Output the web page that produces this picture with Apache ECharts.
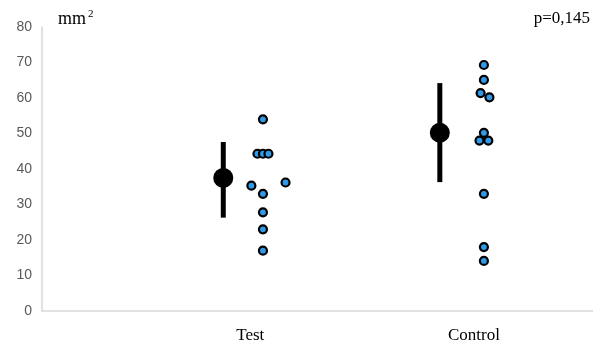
<!DOCTYPE html>
<html><head><meta charset="utf-8">
<script src="https://cdn.jsdelivr.net/npm/echarts@6/dist/echarts.min.js"></script>
<style>html,body{margin:0;padding:0;background:#fff}#c{width:593px;height:344px}</style>
</head><body><div id="c"></div>
<script>
// Categories and their label positions on the x scale (0..10)
var categories = ['Test', 'Control'];
var labelPos = [3.78, 7.84];
var meanPos = [3.29, 7.22];
var pointPos = [4.01, 8.02];
// Individual values (with horizontal jitter offsets)
var testValues  = [54, 44.3, 44.3, 44.3, 36.2, 35.3, 33, 27.8, 23, 17];
var testJitter  = [0, -0.1, 0, 0.1, 0.41, -0.21, 0, 0, 0, 0];
var controlValues = [69.3, 65.1, 61.4, 60.2, 50.2, 48, 48, 33, 18, 14.1];
var controlJitter = [0, 0, -0.06, 0.1, 0, -0.08, 0.08, 0, 0, 0];
// Means and error bars
var means = [37.5, 50.2];
var lows  = [26.3, 36.3];
var highs = [47.6, 64.2];

var pts = [];
testValues.forEach(function(v, i){ pts.push([pointPos[0] + testJitter[i], v]); });
controlValues.forEach(function(v, i){ pts.push([pointPos[1] + controlJitter[i], v]); });
var meanData = means.map(function(m, i){ return [meanPos[i], m]; });
var errData = means.map(function(m, i){ return [meanPos[i], lows[i], highs[i]]; });

var chart = echarts.init(document.getElementById('c'));
chart.setOption({
  animation: false,
  grid: {left: 42, right: 0, top: 27, bottom: 32, containLabel: false},
  xAxis: {
    type: 'value', min: 0, max: 10,
    axisLine: {show: true, onZero: false, lineStyle: {color: '#d9d9d9', width: 1.5}},
    axisTick: {show: false},
    splitLine: {show: false},
    axisLabel: {
      customValues: labelPos,
      margin: 16,
      fontFamily: 'Liberation Serif', fontSize: 17, color: '#000',
      formatter: function(v){
        for (var i = 0; i < labelPos.length; i++) if (Math.abs(v - labelPos[i]) < 1e-6) return categories[i];
        return '';
      }
    }
  },
  yAxis: {
    type: 'value', min: 0, max: 80, interval: 10,
    axisLine: {show: true, lineStyle: {color: '#d9d9d9', width: 1.5}},
    axisTick: {show: false},
    splitLine: {show: false},
    axisLabel: {margin: 10, fontFamily: 'Liberation Sans', fontSize: 14, color: '#595959'}
  },
  graphic: [
    {type: 'text', left: 58, top: 10, style: {text: 'mm', font: '18px "Liberation Serif"', fill: '#000'}},
    {type: 'text', left: 88, top: 9, style: {text: '2', font: '11px "Liberation Serif"', fill: '#000'}},
    {type: 'text', right: 3, top: 10, style: {text: 'p=0,145', font: '17px "Liberation Serif"', fill: '#000'}}
  ],
  series: [
    {
      type: 'custom',
      data: errData,
      renderItem: function(params, api){
        var top = api.coord([api.value(0), api.value(2)]);
        var bot = api.coord([api.value(0), api.value(1)]);
        return {type: 'line', shape: {x1: top[0], y1: top[1], x2: bot[0], y2: bot[1]},
                style: {stroke: '#000', lineWidth: 5}};
      },
      z: 2
    },
    {
      type: 'scatter', data: meanData, symbol: 'circle', symbolSize: 20,
      itemStyle: {color: '#000', opacity: 1}, z: 3
    },
    {
      type: 'scatter', data: pts, symbol: 'circle', symbolSize: 8,
      itemStyle: {color: '#2f9be8', borderColor: '#000', borderWidth: 2.2, opacity: 1}, z: 4
    }
  ]
});
</script></body></html>
